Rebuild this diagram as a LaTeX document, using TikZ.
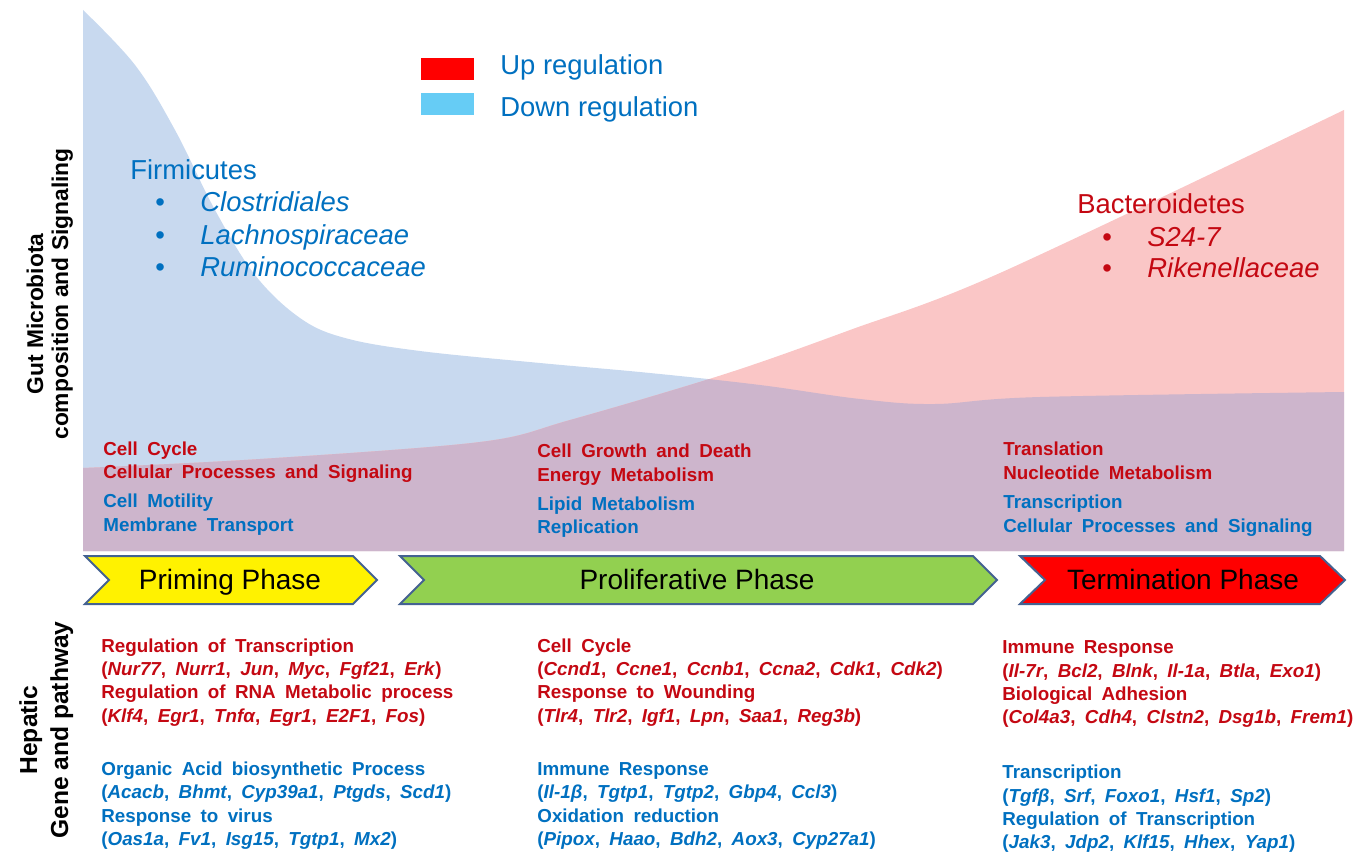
\documentclass[tikz,border=0pt]{standalone}
\usepackage{fontspec}
\setmainfont{Liberation Sans}
\newfontfamily\wsp{Liberation Sans}[WordSpace=1.8]
\definecolor{blueArea}{RGB}{200,217,239}
\definecolor{redArea}{RGB}{250,198,198}
\definecolor{overlapArea}{RGB}{205,181,204}
\definecolor{phaseBorder}{RGB}{68,98,145}
\definecolor{txtBlue}{RGB}{0,112,192}
\definecolor{txtRed}{RGB}{196,8,18}
\definecolor{legBlue}{RGB}{102,204,245}
\definecolor{phGreen}{RGB}{146,208,80}
\newcommand\gn[1]{\textit{#1}}
\tikzset{
  pw/.style={font=\wsp\bfseries\fontsize{9.4}{11}\selectfont, anchor=base west, inner sep=0pt},
  pr/.style={pw, text=txtRed},
  pb/.style={pw, text=txtBlue},
  big/.style={font=\fontsize{13.7}{16}\selectfont, anchor=base west, inner sep=0pt},
  phasebox/.style={draw=phaseBorder, line width=1pt, line join=miter},
  phasetxt/.style={font=\fontsize{14}{16}\selectfont, anchor=base, inner sep=0pt},
  sidelbl/.style={font=\bfseries\fontsize{11.4}{14}\selectfont, rotate=90, anchor=base, inner sep=0pt},
  sidelblb/.style={font=\bfseries\fontsize{12.3}{14}\selectfont, rotate=90, anchor=base, inner sep=0pt}
}
\begin{document}
\begin{tikzpicture}[x=0.5pt,y=-0.5pt]
\useasboundingbox (0,0) rectangle (1368,855);
% areas
\def\bluepath{(83,551) -- plot[smooth,tension=0.6] coordinates {(83,10) (135,65) (175,130) (215,210) (255,275) (300,318) (345,338) (420,351) (540,363) (650,373) (760,385) (860,399) (935,404) (1040,397) (1344,392)} -- (1344,551) -- cycle}
\def\redpath{(83,551) -- plot[smooth,tension=0.55] coordinates {(83,468) (260,459) (480,442) (570,420) (725,374) (850,330) (1000,273) (1344,110)} -- (1344,551) -- cycle}
\fill[blueArea] \bluepath;
\fill[redArea] \redpath;
\begin{scope}
\clip \bluepath;
\fill[overlapArea] \redpath;
\end{scope}
% legend
\fill[red] (421,58) rectangle (474,80);
\fill[legBlue] (421,93) rectangle (474,115);
\node[big, text=txtBlue] (legUp) at (500,75) {Up regulation};
\node[big, text=txtBlue] (legDown) at (500,117) {Down regulation};
% Firmicutes
\node[big, text=txtBlue] (firm) at (130,180) {Firmicutes};
\node[big, text=txtBlue] (fb1) at (155,212) {•};
\node[big, text=txtBlue] (fb2) at (155,245) {•};
\node[big, text=txtBlue] (fb3) at (155,277) {•};
\node[big, text=txtBlue] (clos) at (200,212) {\itshape Clostridiales};
\node[big, text=txtBlue] (lach) at (200,245) {\itshape Lachnospiraceae};
\node[big, text=txtBlue] (rumi) at (200,277) {\itshape Ruminococcaceae};
% Bacteroidetes
\node[big, text=txtRed] (bact) at (1077,214) {Bacteroidetes};
\node[big, text=txtRed] (bb1) at (1102,247) {•};
\node[big, text=txtRed] (bb2) at (1102,278) {•};
\node[big, text=txtRed] (s247) at (1147,247) {\itshape S24-7};
\node[big, text=txtRed] (rike) at (1147,278) {\itshape Rikenellaceae};
% side labels
\node[sidelbl] (gut1) at (43,314) {Gut Microbiota};
\node[sidelbl] (gut2) at (68,294) {composition and Signaling};
\node[sidelblb] (hep1) at (37,730) {Hepatic};
\node[sidelblb] (hep2) at (68,730) {Gene and pathway};
% microbiota pathways
\node[pr] (m1) at (103,455) {Cell Cycle};
\node[pr] (m2) at (103,478) {Cellular Processes and Signaling};
\node[pb] (m3) at (103,507) {Cell Motility};
\node[pb] (m4) at (103,531) {Membrane Transport};
\node[pr] (m5) at (537,457) {Cell Growth and Death};
\node[pr] (m6) at (537,481) {Energy Metabolism};
\node[pb] (m7) at (537,510) {Lipid Metabolism};
\node[pb] (m8) at (537,533) {Replication};
\node[pr] (m9) at (1003,455) {Translation};
\node[pr] (m10) at (1003,479) {Nucleotide Metabolism};
\node[pb] (m11) at (1003,508) {Transcription};
\node[pb] (m12) at (1003,532) {Cellular Processes and Signaling};
% phases
\draw[phasebox, fill=yellow] (85,556) -- (353,556) -- (377,580) -- (353,604) -- (85,604) -- (109,580) -- cycle;
\draw[phasebox, fill=phGreen] (400,556) -- (973,556) -- (997,580) -- (973,604) -- (400,604) -- (424,580) -- cycle;
\draw[phasebox, fill=red] (1020,556) -- (1320,556) -- (1345,580) -- (1320,604) -- (1020,604) -- (1045,580) -- cycle;
\node[phasetxt] (ph1) at (230,589) {Priming Phase};
\node[phasetxt] (ph2) at (697,589) {Proliferative Phase};
\node[phasetxt] (ph3) at (1183,589) {Termination Phase};
% hepatic left
\node[pr] (h1) at (101,652) {Regulation of Transcription};
\node[pr] (h2) at (101,675) {(\gn{Nur77}, \gn{Nurr1}, \gn{Jun}, \gn{Myc}, \gn{Fgf21}, \gn{Erk})};
\node[pr] (h3) at (101,698) {Regulation of RNA Metabolic process};
\node[pr] (h4) at (101,722) {(\gn{Klf4}, \gn{Egr1}, \gn{Tnfα}, \gn{Egr1}, \gn{E2F1}, \gn{Fos})};
\node[pb] (h5) at (101,775) {Organic Acid biosynthetic Process};
\node[pb] (h6) at (101,798) {(\gn{Acacb}, \gn{Bhmt}, \gn{Cyp39a1}, \gn{Ptgds}, \gn{Scd1})};
\node[pb] (h7) at (101,822) {Response to virus};
\node[pb] (h8) at (101,845) {(\gn{Oas1a}, \gn{Fv1}, \gn{Isg15}, \gn{Tgtp1}, \gn{Mx2})};
% hepatic middle
\node[pr] (h9) at (537,652) {Cell Cycle};
\node[pr] (h10) at (537,675) {(\gn{Ccnd1}, \gn{Ccne1}, \gn{Ccnb1}, \gn{Ccna2}, \gn{Cdk1}, \gn{Cdk2})};
\node[pr] (h11) at (537,698) {Response to Wounding};
\node[pr] (h12) at (537,722) {(\gn{Tlr4}, \gn{Tlr2}, \gn{Igf1}, \gn{Lpn}, \gn{Saa1}, \gn{Reg3b})};
\node[pb] (h13) at (537,775) {Immune Response};
\node[pb] (h14) at (537,798) {(\gn{Il-1β}, \gn{Tgtp1}, \gn{Tgtp2}, \gn{Gbp4}, \gn{Ccl3})};
\node[pb] (h15) at (537,822) {Oxidation reduction};
\node[pb] (h16) at (537,845) {(\gn{Pipox}, \gn{Haao}, \gn{Bdh2}, \gn{Aox3}, \gn{Cyp27a1})};
% hepatic right
\node[pr] (h17) at (1002,653) {Immune Response};
\node[pr] (h18) at (1002,677) {(\gn{Il-7r}, \gn{Bcl2}, \gn{Blnk}, \gn{Il-1a}, \gn{Btla}, \gn{Exo1})};
\node[pr] (h19) at (1002,700) {Biological Adhesion};
\node[pr] (h20) at (1002,723) {(\gn{Col4a3}, \gn{Cdh4}, \gn{Clstn2}, \gn{Dsg1b}, \gn{Frem1})};
\node[pb] (h21) at (1002,778) {Transcription};
\node[pb] (h22) at (1002,802) {(\gn{Tgfβ}, \gn{Srf}, \gn{Foxo1}, \gn{Hsf1}, \gn{Sp2})};
\node[pb] (h23) at (1002,825) {Regulation of Transcription};
\node[pb] (h24) at (1002,848) {(\gn{Jak3}, \gn{Jdp2}, \gn{Klf15}, \gn{Hhex}, \gn{Yap1})};
\end{tikzpicture}
\end{document}
